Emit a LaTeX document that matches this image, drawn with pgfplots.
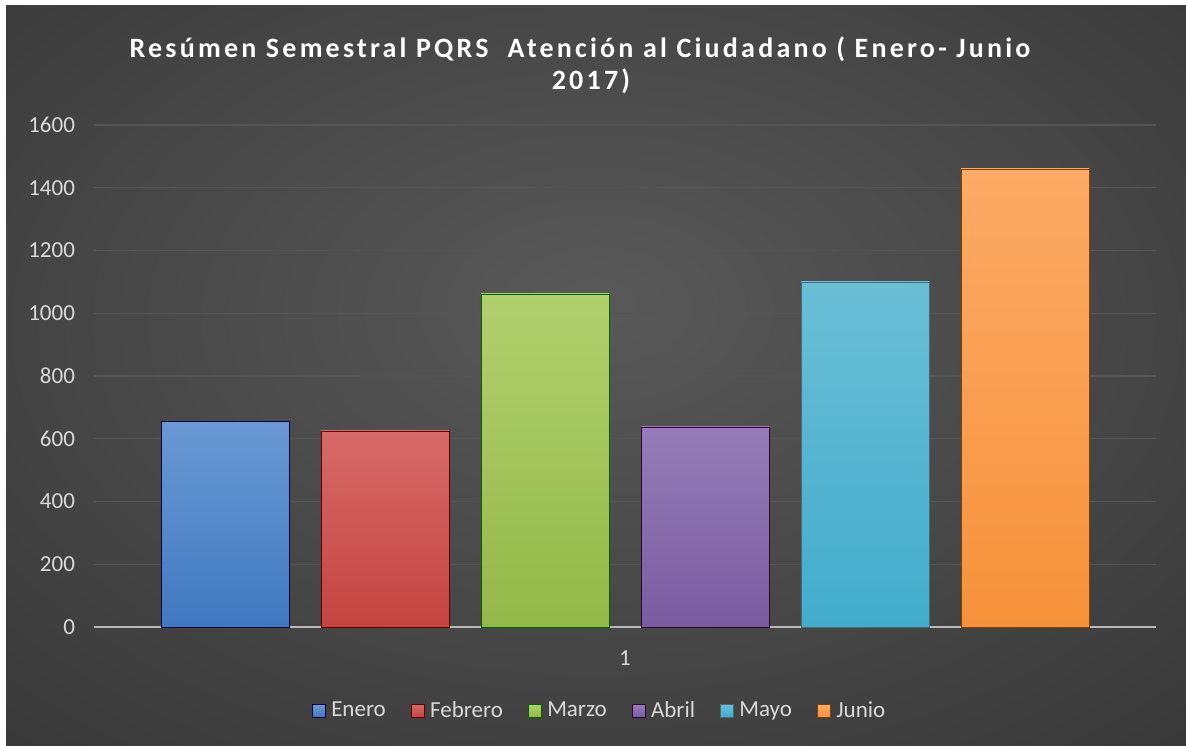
\documentclass[border=0pt]{standalone}
\usepackage{fontspec}
\setmainfont{Carlito}
\newfontfamily\titlefont[LetterSpace=11.5]{Carlito}
\usepackage{pgfplots}
\pgfplotsset{compat=1.18}

\definecolor{bgin}{HTML}{595959}
\definecolor{bgout}{HTML}{262626}
\definecolor{gridc}{HTML}{555555}
\definecolor{labc}{HTML}{D9D9D9}

\pgfdeclareradialshading{chartbg}{\pgfpoint{0bp}{5bp}}{%
  color(0bp)=(bgin); color(50bp)=(bgout!85!bgin); color(75bp)=(bgout)}

\begin{document}
\begin{tikzpicture}
% picture frame: 1px = 0.5pt
\fill[white] (0,0) rectangle (593pt,372.5pt);
\shade[shading=chartbg] (3pt,0) rectangle (593pt,369.5pt);

\node[text=white, font=\titlefont\bfseries\fontsize{14}{16}\selectfont, align=center]
  at (290pt,340pt) {Resúmen Semestral PQRS\ \ Atención al Ciudadano ( Enero- Junio\\\hspace*{11pt}2017)};

\begin{axis}[
  at={(47pt,59pt)}, anchor=south west,
  scale only axis,
  width=531pt, height=251pt,
  ybar=16pt, bar width=64pt,
  xmin=0.5, xmax=1.5,
  ymin=0, ymax=1600,
  ytick={0,200,...,1600},
  xtick={1},
  axis lines=left,
  y axis line style={draw=none},
  x axis line style={draw=white!72!black, line width=1pt, -},
  major tick length=0pt,
  ymajorgrids,
  grid style={gridc, line width=0.6pt},
  tick label style={text=labc, font=\fontsize{11.5}{13}\selectfont},
  /pgf/number format/assume math mode=true,
  /pgf/number format/1000 sep={},
  yticklabel style={xshift=-6pt},
  xticklabel style={yshift=-8.5pt},
  legend style={at={(0.477,-0.167)}, anchor=center, draw=none, fill=none,
    text=labc, font=\fontsize{11.5}{13}\selectfont, legend columns=6,
    /tikz/every odd column/.append style={column sep=1pt},
    /tikz/every even column/.append style={column sep=10.5pt}},
  legend image code/.code={\draw[#1] (0pt,-3.2pt) rectangle (6.4pt,3.2pt);},
]
\addplot[draw=black!30!blue!40!black, line width=0.3pt, top color={rgb,255:red,106;green,153;blue,212}, bottom color={rgb,255:red,64;green,121;blue,192}] coordinates {(1,655)};
\addlegendentry{Enero}
\addplot[draw=black!60!red, line width=0.3pt, top color={rgb,255:red,214;green,106;blue,104}, bottom color={rgb,255:red,196;green,68;blue,64}] coordinates {(1,625)};
\addlegendentry{Febrero}
\addplot[draw=black!60!green, line width=0.3pt, top color={rgb,255:red,176;green,208;blue,110}, bottom color={rgb,255:red,148;green,184;blue,72}] coordinates {(1,1062)};
\addlegendentry{Marzo}
\addplot[draw=black!60!violet, line width=0.3pt, top color={rgb,255:red,150;green,124;blue,184}, bottom color={rgb,255:red,121;green,92;blue,160}] coordinates {(1,638)};
\addlegendentry{Abril}
\addplot[draw=black!60!cyan, line width=0.3pt, top color={rgb,255:red,106;green,190;blue,214}, bottom color={rgb,255:red,66;green,172;blue,204}] coordinates {(1,1100)};
\addlegendentry{Mayo}
\addplot[draw=black!50!orange, line width=0.3pt, top color={rgb,255:red,252;green,170;blue,102}, bottom color={rgb,255:red,246;green,146;blue,58}] coordinates {(1,1460)};
\addlegendentry{Junio}
\end{axis}
\end{tikzpicture}
\end{document}
